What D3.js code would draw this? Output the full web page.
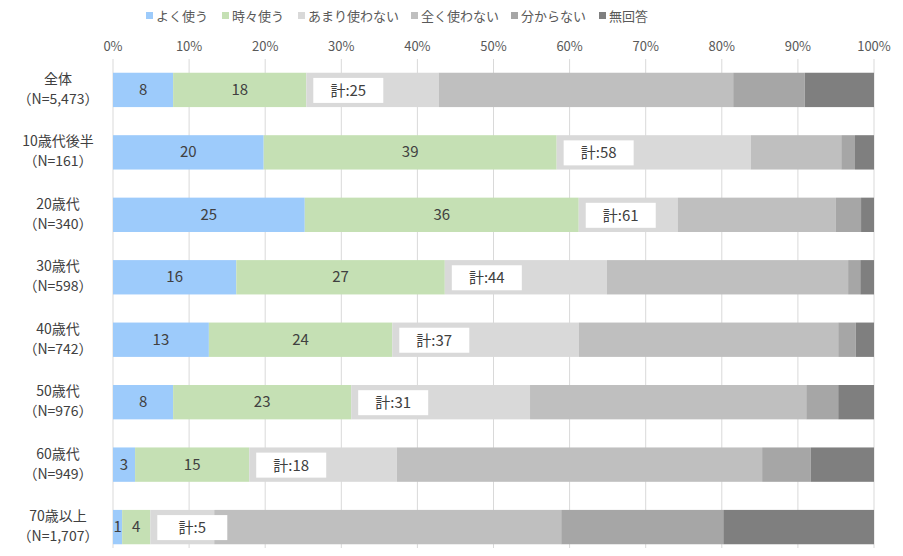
<!DOCTYPE html>
<html><head><meta charset="utf-8">
<script src="https://cdn.jsdelivr.net/npm/d3@7"></script>
<style>body{margin:0;background:#fff;font-family:"Noto Sans CJK JP","Noto Sans",sans-serif;}</style>
</head><body><svg id="c" width="903" height="556"></svg>
<script>
var groups = ["全体", "10歳代後半", "20歳代", "30歳代", "40歳代", "50歳代", "60歳代", "70歳以上"];
var counts = ["N=5,473", "N=161", "N=340", "N=598", "N=742", "N=976", "N=949", "N=1,707"];
var series = ["よく使う", "時々使う", "あまり使わない", "全く使わない", "分からない", "無回答"];
var colors = ["#9dcbfb", "#c5e0b4", "#d9d9d9", "#bfbfbf", "#a6a6a6", "#7f7f7f"];
var often = [7.9, 19.8, 25.2, 16.2, 12.6, 7.9, 2.9, 1.2];
var sometimes = [17.5, 38.5, 36.0, 27.4, 24.1, 23.4, 15.0, 3.7];
var rarely = [17.4, 25.5, 13.0, 21.3, 24.5, 23.5, 19.4, 8.4];
var never = [38.7, 11.9, 20.8, 31.7, 34.1, 36.3, 48.0, 45.6];
var unknown = [9.4, 1.8, 3.3, 1.6, 2.3, 4.2, 6.4, 21.3];
var noAnswer = [9.1, 2.5, 1.7, 1.8, 2.4, 4.7, 8.3, 19.8];
var often_lbl = [8, 20, 25, 16, 13, 8, 3, 1];
var some_lbl = [18, 39, 36, 27, 24, 23, 15, 4];
var total_lbl = [25, 58, 61, 44, 37, 31, 18, 5];
var ticks = [0, 10, 20, 30, 40, 50, 60, 70, 80, 90, 100];

var vals = [often, sometimes, rarely, never, unknown, noAnswer];
var svg = d3.select("#c");
var x = d3.scaleLinear().domain([0, 100]).range([113, 874]);
var y = d3.scaleBand().domain(groups).range([59, 558]).paddingInner(0.45).paddingOuter(0.22);

// grid
svg.selectAll(".g").data(ticks).enter().append("line")
  .attr("x1", d => x(d)).attr("x2", d => x(d)).attr("y1", 59).attr("y2", 548)
  .attr("stroke", "#d9d9d9");
svg.selectAll(".t").data(ticks).enter().append("text")
  .attr("x", d => x(d)).attr("y", 51).attr("text-anchor", "middle")
  .attr("font-size", 13).attr("fill", "#595959").text(d => d + "%");

// bars
groups.forEach(function(g, i){
  var acc = 0;
  vals.forEach(function(s, k){
    svg.append("rect").attr("x", x(acc)).attr("width", x(acc + s[i]) - x(acc))
      .attr("y", y(g)).attr("height", y.bandwidth()).attr("fill", colors[k]);
    acc += s[i];
  });
  var cy = y(g) + y.bandwidth() / 2;
  svg.append("text").attr("x", x(often[i] / 2)).attr("y", cy + 5).attr("text-anchor", "middle")
    .attr("font-size", 15).attr("fill", "#404040").text(often_lbl[i]);
  svg.append("text").attr("x", x(often[i] + sometimes[i] / 2)).attr("y", cy + 5).attr("text-anchor", "middle")
    .attr("font-size", 15).attr("fill", "#404040").text(some_lbl[i]);
  var bx = x(often[i] + sometimes[i]) + 7;
  svg.append("rect").attr("x", bx).attr("y", cy - 12).attr("width", 70).attr("height", 25).attr("fill", "#fff");
  svg.append("text").attr("x", bx + 35).attr("y", cy + 6).attr("text-anchor", "middle")
    .attr("font-size", 15).attr("fill", "#404040").text("計:" + total_lbl[i]);
  var lab = svg.append("text").attr("text-anchor", "middle").attr("font-size", 14).attr("fill", "#404040");
  lab.append("tspan").attr("x", 58).attr("y", cy - 6).text(g);
  lab.append("tspan").attr("x", 58).attr("y", cy + 14).text("（" + counts[i] + "）");
});

// legend
var lx = [156, 232, 308, 421, 521, 609];
series.forEach(function(s, k){
  svg.append("rect").attr("x", lx[k] - 10).attr("y", 12).attr("width", 7).attr("height", 7).attr("fill", colors[k]);
  svg.append("text").attr("x", lx[k]).attr("y", 21).attr("font-size", 13).attr("fill", "#595959").text(s);
});
</script></body></html>
